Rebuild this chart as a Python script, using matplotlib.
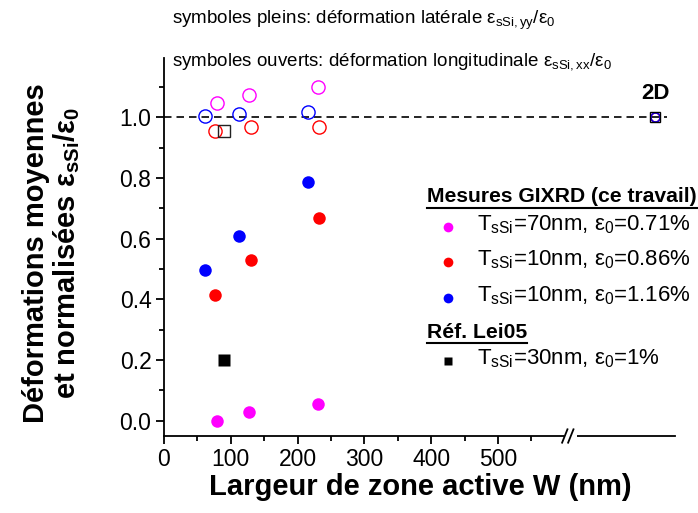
import matplotlib
matplotlib.use('Agg')
import matplotlib.pyplot as plt
from matplotlib.lines import Line2D
from matplotlib.patches import Rectangle

plt.rcParams['font.family'] = ['Liberation Sans', 'DejaVu Sans']
plt.rcParams['mathtext.fontset'] = 'custom'
plt.rcParams['mathtext.rm'] = 'Liberation Sans'
plt.rcParams['mathtext.it'] = 'Liberation Sans:italic'
plt.rcParams['mathtext.bf'] = 'Liberation Sans:bold'

# ---------------- data ----------------
w_magenta = [79, 127, 231]
lat_magenta = [0.0, 0.028, 0.055]
lon_magenta = [1.046, 1.073, 1.101]

w_red = [76, 130, 232]
lat_red = [0.414, 0.53, 0.669]
lon_red = [0.955, 0.967, 0.967]

w_blue = [62, 112, 216]
lat_blue = [0.497, 0.61, 0.785]
lon_blue = [1.004, 1.011, 1.018]

w_lei = [90]
lat_lei = [0.20]
lon_lei = [0.953]

x_2d = 735          # position used for the "2D" limit, beyond the axis break
y_2d = 1.0

xtick_values = [0, 100, 200, 300, 400, 500]
xtick_labels = ['0', '100', '200', '300', '400', '500']
ytick_values = [0.0, 0.2, 0.4, 0.6, 0.8, 1.0]
ytick_labels = ['0.0', '0.2', '0.4', '0.6', '0.8', '1.0']

colors = {'magenta': '#FF00FF', 'red': '#FF0000', 'blue': '#0000FF', 'black': '#000000'}

W, H = 698, 513
fig = plt.figure(figsize=(W / 100, H / 100), dpi=100)
ax = fig.add_axes([164 / W, 1 - 436 / H, (675 - 164) / W, (436 - 58) / H])

ax.set_xlim(0, 765)
ax.set_ylim(-0.05, 1.195)

# reference dashed line
ax.plot([0, 753], [1.0, 1.0], ls=(0, (4.5, 3)), color='black', lw=1.2, zorder=1)

ms_f = 9
ms_o = 9.5
# filled (lateral)
ax.plot(w_magenta, lat_magenta, 'o', color=colors['magenta'], ms=ms_f, mec='none', zorder=3)
ax.plot(w_red, lat_red, 'o', color=colors['red'], ms=ms_f, mec='none', zorder=3)
ax.plot(w_blue, lat_blue, 'o', color=colors['blue'], ms=ms_f, mec='none', zorder=3)
ax.plot(w_lei, lat_lei, 's', color='black', ms=8, mec='none', zorder=3)
# open (longitudinal)
ax.plot(w_magenta, lon_magenta, 'o', mfc='none', mec=colors['magenta'], ms=ms_o, mew=1.0, zorder=3)
ax.plot(w_red, lon_red, 'o', mfc='none', mec=colors['red'], ms=ms_o, mew=1.0, zorder=3)
ax.plot(w_blue, lon_blue, 'o', mfc='none', mec=colors['blue'], ms=ms_o, mew=1.0, zorder=3)
ax.plot(w_lei, lon_lei, 's', mfc='none', mec='#222222', ms=8.5, mew=1.0, zorder=3)
# 2D limit
for c in ['magenta', 'red', 'blue']:
    ax.plot([x_2d], [y_2d], 'o', mfc='none', mec=colors[c], ms=6.5, mew=1.0, zorder=3)
ax.plot([x_2d], [y_2d], 's', mfc='none', mec='black', ms=7, mew=1.0, zorder=4)
ax.text(x_2d, 1.043, '2D', ha='center', va='bottom', fontsize=16, fontweight='bold')

# spines / ticks
for s in ['top', 'right']:
    ax.spines[s].set_visible(False)
for s in ['left', 'bottom']:
    ax.spines[s].set_linewidth(1.3)
ax.set_xticks(xtick_values)
ax.set_xticklabels(xtick_labels)
ax.set_xticks([50, 150, 250, 350, 450, 550], minor=True)
ax.set_yticks(ytick_values)
ax.set_yticklabels(ytick_labels)
ax.set_yticks([0.1, 0.3, 0.5, 0.7, 0.9, 1.1], minor=True)
ax.tick_params(which='major', direction='out', length=6, width=1.3, labelsize=16.5, pad=3)
ax.tick_params(which='minor', direction='out', length=3.5, width=1.3)

# axis break on the x axis
bx1, bx2 = 597, 620
ax.add_patch(Rectangle((bx1 + 2, -0.07), bx2 - bx1 - 4, 0.04, transform=ax.transData,
                       facecolor='white', edgecolor='none', clip_on=False, zorder=5))
dy = 0.022
for bx in [bx1 + 3, bx1 + 12]:
    ax.plot([bx - 4, bx + 4], [-0.05 - dy, -0.05 + dy], color='black', lw=1.3,
            clip_on=False, zorder=6)

# labels
fig.text(420 / W, 1 - 495 / H, 'Largeur de zone active W (nm)', ha='center', va='baseline',
         fontsize=21, fontweight='bold')
fig.text(52 / W, 1 - 253 / H,
         'Déformations moyennes\net normalisées ε$_{\\mathbf{sSi}}$/ε$_{\\mathbf{0}}$',
         ha='center', va='center', rotation=90, fontsize=21, fontweight='bold',
         multialignment='center', linespacing=1.05)

# top annotations
fig.text(172 / W, 1 - 20 / H, 'symboles pleins: déformation latérale ε$_{\\mathregular{sSi,yy}}$/ε$_{\\mathregular{0}}$',
         ha='left', va='center', fontsize=13.5)
fig.text(172 / W, 1 - 62 / H, 'symboles ouverts: déformation longitudinale ε$_{\\mathregular{sSi,xx}}$/ε$_{\\mathregular{0}}$',
         ha='left', va='center', fontsize=13.5)

# custom legend
def header(x, y, txt, x_end):
    t = fig.text(x / W, 1 - y / H, txt, ha='left', va='center', fontsize=15.2, fontweight='bold')
    fig.add_artist(Line2D([x / W, x_end / W], [1 - (y + 11) / H, 1 - (y + 11) / H],
                          color='black', lw=1.5))
    return t

header(427, 197, 'Mesures GIXRD (ce travail)', 697)
rows = [
    (227, 'o', colors['magenta'], 'T$_{\\mathregular{sSi}}$=70nm, ε$_{\\mathregular{0}}$=0.71%'),
    (262, 'o', colors['red'], 'T$_{\\mathregular{sSi}}$=10nm, ε$_{\\mathregular{0}}$=0.86%'),
    (298, 'o', colors['blue'], 'T$_{\\mathregular{sSi}}$=10nm, ε$_{\\mathregular{0}}$=1.16%'),
]
for y, m, c, txt in rows:
    fig.add_artist(Line2D([448 / W], [1 - y / H], marker=m, color=c, ms=7, mec='none', ls='none'))
    fig.text(477 / W, 1 - (y - 2) / H, txt, ha='left', va='center', fontsize=16)
header(427, 332, 'Réf. Lei05', 527)
fig.add_artist(Line2D([448 / W], [1 - 361 / H], marker='s', color='black', ms=6, mec='none', ls='none'))
fig.text(477 / W, 1 - 359 / H, 'T$_{\\mathregular{sSi}}$=30nm, ε$_{\\mathregular{0}}$=1%',
         ha='left', va='center', fontsize=16)

fig.savefig('out.png', dpi=100)
